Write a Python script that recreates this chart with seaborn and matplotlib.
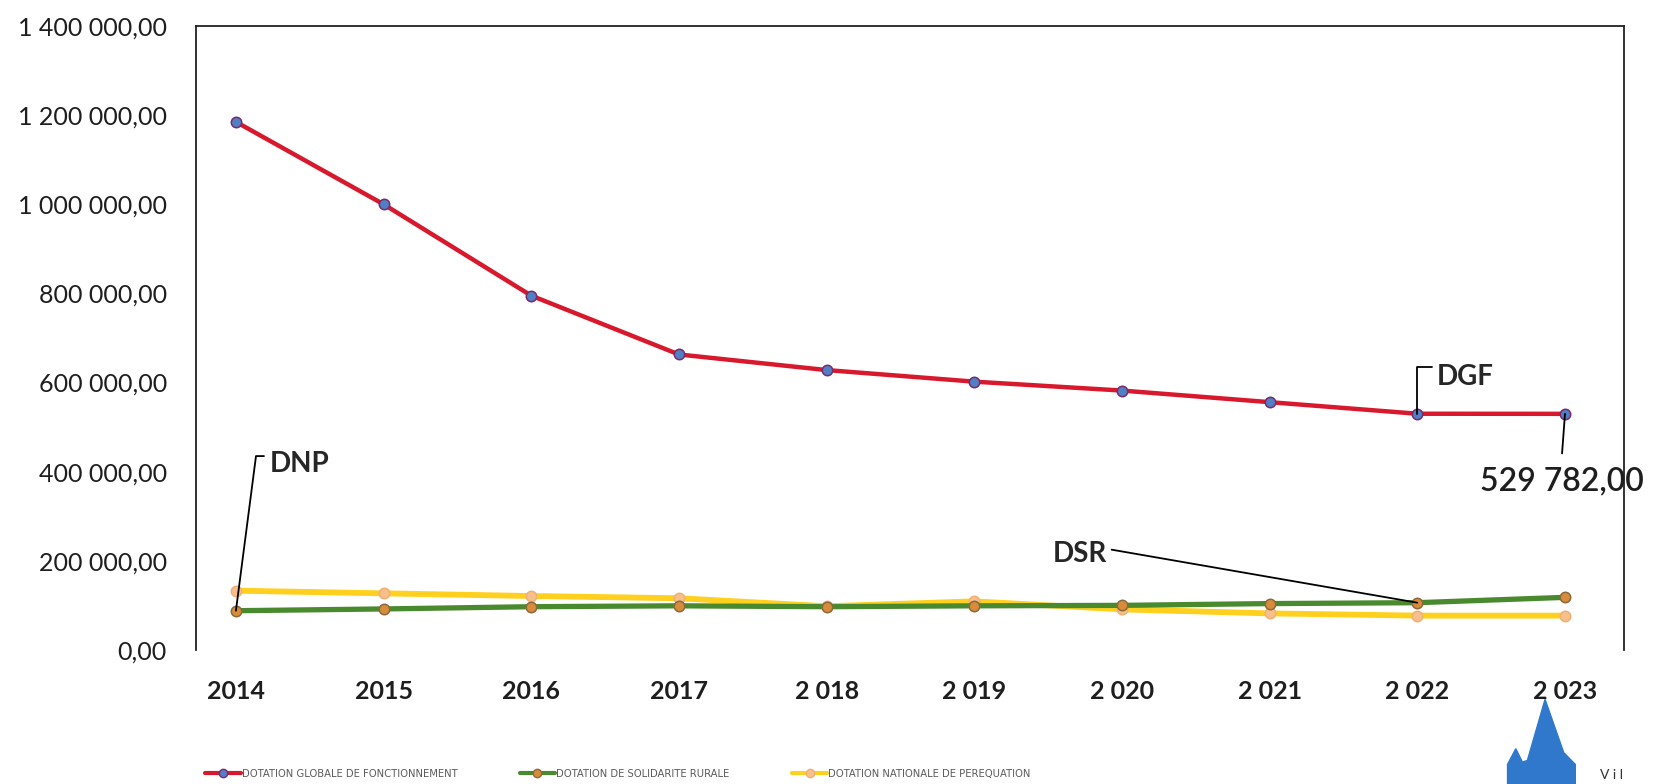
import numpy as np
import pandas as pd
import matplotlib
matplotlib.use('Agg')
import matplotlib.pyplot as plt
import seaborn as sns
from matplotlib.lines import Line2D
from matplotlib.patches import Polygon

# Data
years = ['2014', '2015', '2016', '2017', '2 018', '2 019', '2 020', '2 021', '2 022', '2 023']
dgf = [1185000, 1000000, 795000, 663000, 628000, 602000, 582000, 556000, 530000, 529782]
dsr = [88000, 92000, 97000, 99000, 97000, 99000, 100000, 104000, 106000, 118000]
dnp = [133000, 127000, 121000, 116000, 98000, 109000, 91000, 82000, 77000, 77000]
series_names = ['DOTATION GLOBALE DE FONCTIONNEMENT', 'DOTATION DE SOLIDARITE RURALE',
                'DOTATION NATIONALE DE PEREQUATION']

df = pd.DataFrame({
    'x': list(range(len(years))) * 3,
    'value': dgf + dsr + dnp,
    'serie': np.repeat(series_names, len(years)),
})

sns.set_style('white')
plt.rcParams['font.family'] = ['Lato', 'DejaVu Sans']

fig = plt.figure(figsize=(16.53, 7.84), dpi=100)
ax = fig.add_axes([0.1186, 0.171, 0.8639, 0.7958])

styles = {
    series_names[0]: dict(color='#d8192d', mfc='#4f7fc4', mec='#7a2a6a', lw=3.2),
    series_names[1]: dict(color='#4a8a2f', mfc='#d98b3c', mec='#8a6a3a', lw=3.8),
    series_names[2]: dict(color='#ffd01e', mfc='#f6bf8e', mec='#f2b070', lw=4.2),
}

for name in [series_names[2], series_names[1], series_names[0]]:
    st = styles[name]
    sns.lineplot(data=df[df['serie'] == name], x='x', y='value', ax=ax,
                 color=st['color'], lw=st['lw'], marker='o', markersize=7.5,
                 markerfacecolor=st['mfc'], markeredgecolor=st['mec'], markeredgewidth=1.1,
                 clip_on=False, legend=False)

ax.set_xlim(-0.27, 9.4)
ax.set_ylim(0, 1400000)
yt = np.arange(0, 1400001, 200000)
ax.set_yticks(yt)
ax.set_yticklabels([f'{int(v):,}'.replace(',', ' ') + ',00' for v in yt],
                   fontsize=18, color='#1e1e1e')
ax.set_xticks(range(len(years)))
ax.set_xticklabels(years, fontsize=18, fontweight='bold', color='#1e1e1e')
ax.tick_params(axis='y', length=0, pad=21)
ax.tick_params(axis='x', length=0, pad=22)
ax.set_xlabel('')
ax.set_ylabel('')
for side in ['left', 'top', 'right']:
    ax.spines[side].set_color('#222222')
    ax.spines[side].set_linewidth(1.3)
ax.spines['bottom'].set_visible(False)

# Annotations with leader lines
lk = dict(color='black', lw=1.3, clip_on=False)
ax.plot([0, 0.136, 0.19], [dsr[0], 435000, 435000], **lk)
ax.text(0.23, 418000, 'DNP', fontsize=20, fontweight='bold', va='center', ha='left')
ax.plot([8, 8.0, 8.1], [dgf[8], 635000, 635000], **lk)
ax.text(8.13, 613000, 'DGF', fontsize=20, fontweight='bold', va='center', ha='left')
ax.plot([9, 8.98], [dgf[9], 441000], **lk)
ax.text(8.98, 379000, '529 782,00', fontsize=23, fontweight='semibold', va='center',
        ha='center', clip_on=False, color='#1e1e1e')
ax.plot([8, 5.93], [dsr[8], 225000], **lk)
ax.text(5.9, 216000, 'DSR', fontsize=20, fontweight='bold', va='center', ha='right')

# Legend at the bottom
handles = [Line2D([0], [0], color=styles[n]['color'], lw=3, marker='o', markersize=6,
                  markerfacecolor=styles[n]['mfc'], markeredgecolor=styles[n]['mec'])
           for n in series_names]
fig.legend(handles, series_names, loc='center left', bbox_to_anchor=(0.118, 0.013), ncol=3,
           frameon=False, handlelength=3.2, handletextpad=0.1, columnspacing=5.6,
           labelcolor='#5a5a5a',
           prop={'family': 'DejaVu Sans', 'stretch': 'condensed', 'size': 8})

# Small logo in the corner
fig.patches.append(Polygon([[0.912, 0.0], [0.912, 0.025], [0.917, 0.045], [0.921, 0.028],
                            [0.924, 0.03], [0.9347, 0.108], [0.946, 0.04], [0.953, 0.025],
                            [0.953, 0.0]],
                           closed=True, transform=fig.transFigure, color='#2f78cc'))
fig.text(0.968, 0.004, 'V i l', fontsize=10, color='#333333', va='bottom')

plt.savefig('out.png', dpi=100)
